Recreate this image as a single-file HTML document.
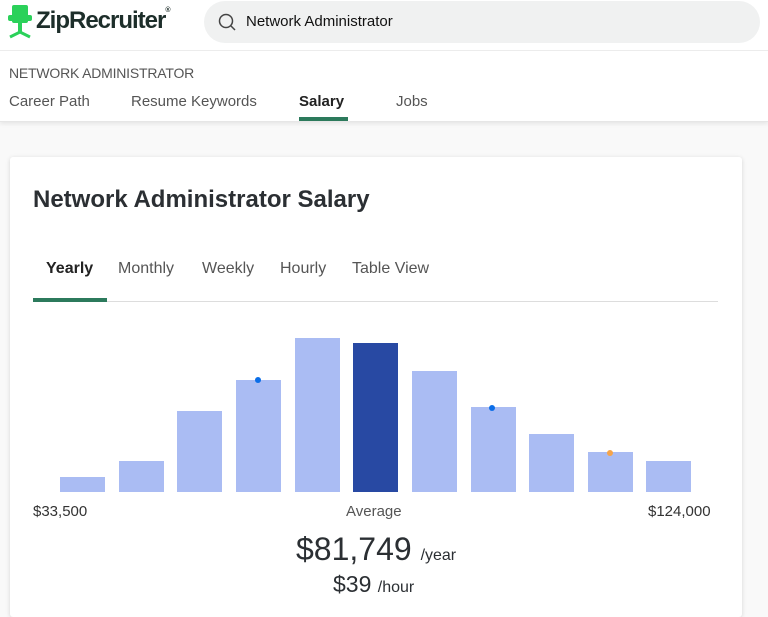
<!DOCTYPE html>
<html><head><style>
body{margin:0;width:768px;height:597px;overflow:hidden;background:#f9f9f9;font-family:"Liberation Sans",sans-serif;position:relative}
.a{position:absolute;white-space:nowrap}
.bar{position:absolute;background:#aabcf3;width:45px;bottom:105px}
</style></head><body>
<div class="a" style="left:0;top:0;width:768px;height:121px;background:#fff;border-bottom:1px solid #e6e6e6;box-shadow:0 2px 4px rgba(0,0,0,.08)"></div>
<div class="a" style="left:0;top:50px;width:768px;height:1px;background:#ececec"></div>
<svg class="a" style="left:8px;top:5px" width="24" height="36" viewBox="0 0 24 36"><rect x="4" y="0" width="16" height="18" rx="2" fill="#2bd15a"/><rect x="0" y="10" width="24" height="6" rx="2" fill="#2bd15a"/><rect x="10" y="18" width="4" height="10" fill="#2bd15a"/><path d="M2 32 L12 27 L22 32" stroke="#2bd15a" stroke-width="3" fill="none"/></svg>
<div class="a" style="left:36px;top:7px;font-size:24px;font-weight:bold;color:#1d2e2a;letter-spacing:-1px">ZipRecruiter<span style="font-size:7px;vertical-align:top">®</span></div>
<div class="a" style="left:204px;top:1px;width:556px;height:42px;background:#f0f1f1;border-radius:21px"></div>
<svg class="a" style="left:218px;top:13px" width="18" height="18"><circle cx="8" cy="8" r="6.5" stroke="#444" stroke-width="1.5" fill="none"/><line x1="13" y1="13" x2="17" y2="17" stroke="#444" stroke-width="1.5"/></svg>
<div class="a" style="left:246px;top:13px;font-size:15px;color:#111">Network Administrator</div>
<div class="a" style="left:9px;top:65px;font-size:14px;color:#555;letter-spacing:-0.2px">NETWORK ADMINISTRATOR</div>
<div class="a" style="left:9px;top:93px;font-size:15px;color:#555">Career Path</div>
<div class="a" style="left:131px;top:93px;font-size:15px;color:#555">Resume Keywords</div>
<div class="a" style="left:299px;top:93px;font-size:15px;color:#222;font-weight:bold">Salary</div>
<div class="a" style="left:299px;top:117px;width:49px;height:4px;background:#2c7a5c"></div>
<div class="a" style="left:396px;top:93px;font-size:15px;color:#555">Jobs</div>
<div class="a" style="left:10px;top:157px;width:732px;height:460px;background:#fff;box-shadow:0 1px 5px rgba(0,0,0,.15);border-radius:3px"></div>
<div class="a" style="left:33px;top:186px;font-size:24px;font-weight:bold;color:#2b2f33">Network Administrator Salary</div>
<div class="a" style="left:46px;top:260px;font-size:16px;font-weight:bold;color:#222">Yearly</div>
<div class="a" style="left:118px;top:260px;font-size:16px;color:#555">Monthly</div>
<div class="a" style="left:202px;top:260px;font-size:16px;color:#555">Weekly</div>
<div class="a" style="left:280px;top:260px;font-size:16px;color:#555">Hourly</div>
<div class="a" style="left:352px;top:260px;font-size:16px;color:#555">Table View</div>
<div class="a" style="left:33px;top:301px;width:685px;height:1px;background:#ddd"></div>
<div class="a" style="left:33px;top:298px;width:74px;height:4px;background:#2c7a5c"></div>
<div class="bar" style="left:60px;height:15px"></div>
<div class="bar" style="left:119px;height:31px"></div>
<div class="bar" style="left:177px;height:81px"></div>
<div class="bar" style="left:236px;height:112px"></div>
<div class="bar" style="left:295px;height:154px"></div>
<div class="bar" style="left:353px;height:149px;background:#2849a3"></div>
<div class="bar" style="left:412px;height:121px"></div>
<div class="bar" style="left:471px;height:85px"></div>
<div class="bar" style="left:529px;height:58px"></div>
<div class="bar" style="left:588px;height:40px"></div>
<div class="bar" style="left:646px;height:31px"></div>
<div class="a" style="left:255px;top:377px;width:6px;height:6px;border-radius:3px;background:#0b6ee8"></div>
<div class="a" style="left:489px;top:405px;width:6px;height:6px;border-radius:3px;background:#0b6ee8"></div>
<div class="a" style="left:607px;top:450px;width:6px;height:6px;border-radius:3px;background:#f5a44a"></div>
<div class="a" style="left:33px;top:503px;font-size:15px;color:#333">$33,500</div>
<div class="a" style="left:346px;top:503px;font-size:15px;color:#555">Average</div>
<div class="a" style="left:648px;top:503px;font-size:15px;color:#333">$124,000</div>
<div class="a" style="left:296px;top:531px;font-size:32px;color:#2b2f33">$81,749 <span style="font-size:16px">/year</span></div>
<div class="a" style="left:333px;top:571px;font-size:23px;color:#2b2f33">$39 <span style="font-size:16px">/hour</span></div>
</body></html>
